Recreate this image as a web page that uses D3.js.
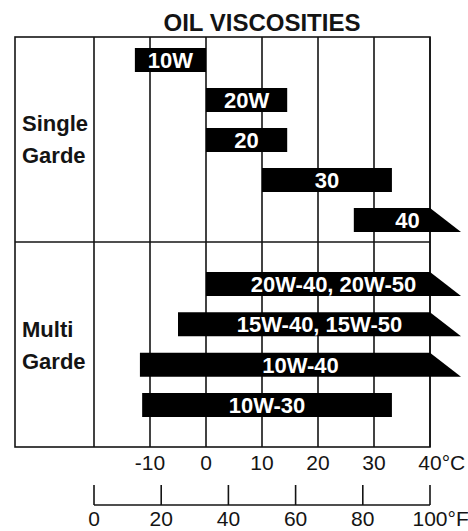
<!DOCTYPE html>
<html>
<head>
<meta charset="utf-8">
<script src="https://cdn.jsdelivr.net/npm/d3@7"></script>
<style>
  body { margin: 0; background: #fff; }
  text { font-family: "Liberation Sans", Arial, sans-serif; }
</style>
</head>
<body>
<div id="chart"></div>
<script>
// oil grades, temperature ranges in °C (open = extends beyond 40°C)
let singleGrades = ['10W', '20W', '20', '30', '40'];
let singleFrom = [-12.7, 0, 0, 10, 26.4];
let singleTo = [0, 14.5, 14.5, 33.2, 40];
let singleOpen = [false, false, false, false, true];

let multiGrades = ['20W-40, 20W-50', '15W-40, 15W-50', '10W-40', '10W-30'];
let multiFrom = [0, -5, -11.8, -11.4];
let multiTo = [40, 40, 40, 33.2];
let multiOpen = [true, true, true, false];

let gridC = [-20, -10, 0, 10, 20, 30, 40];
let tickC = [-10, 0, 10, 20, 30, 40];
let tickF = [0, 20, 40, 60, 80, 100];

function draw_chart() {
    let svgWidth = 468, svgHeight = 531;
    let box = { left: 15, right: 430, top: 37, bottom: 447, divider: 242 };
    let ink = '#141414';
    let barH = 24, tail = 31;

    let svg = d3.select('#chart').append('svg')
        .attr('width', svgWidth)
        .attr('height', svgHeight);

    let x = d3.scaleLinear().domain([-20, 40]).range([94, 430]);
    let xf = d3.scaleLinear().domain([0, 100]).range([94, 430]);

    let ySingle = d3.scalePoint().domain(singleGrades).range([60, 220]);
    let yMulti = d3.scalePoint().domain(multiGrades).range([284, 405]);

    // title
    svg.append('text')
        .attr('x', 262).attr('y', 31)
        .attr('text-anchor', 'middle')
        .attr('font-size', 24).attr('font-weight', 'bold')
        .attr('fill', ink)
        .text('OIL VISCOSITIES');

    // grid
    let grid = svg.append('g').attr('stroke', ink).attr('stroke-width', 1.6).attr('fill', 'none');
    grid.append('rect')
        .attr('x', box.left).attr('y', box.top)
        .attr('width', box.right - box.left).attr('height', box.bottom - box.top);
    grid.selectAll('line.v')
        .data(gridC)
        .enter().append('line')
        .attr('class', 'v')
        .attr('x1', d => x(d)).attr('x2', d => x(d))
        .attr('y1', box.top).attr('y2', box.bottom);
    grid.append('line')
        .attr('x1', box.left).attr('x2', box.right)
        .attr('y1', box.divider).attr('y2', box.divider);

    // bars
    let rows = [];
    singleGrades.forEach((g, i) => rows.push({ name: g, from: singleFrom[i], to: singleTo[i], open: singleOpen[i], y: ySingle(g) }));
    multiGrades.forEach((g, i) => rows.push({ name: g, from: multiFrom[i], to: multiTo[i], open: multiOpen[i], y: yMulti(g) }));

    let bars = svg.append('g').selectAll('g').data(rows).enter().append('g');
    bars.append('path')
        .attr('fill', '#000')
        .attr('d', d => {
            let x0 = x(d.from), x1 = x(d.to), t = d.y - barH / 2, b = d.y + barH / 2;
            let x2 = d.open ? x1 + tail : x1;
            return `M${x0},${t}L${x1},${t}L${x2},${b}L${x0},${b}Z`;
        });
    bars.append('text')
        .attr('x', d => (x(d.from) + x(d.to) + (d.open ? tail : 0)) / 2)
        .attr('y', d => d.y + 8)
        .attr('text-anchor', 'middle')
        .attr('font-size', 22).attr('font-weight', 'bold')
        .attr('fill', '#fff')
        .text(d => d.name);

    // group labels
    let groups = [
        { lines: ['Single', 'Garde'], y: 131 },
        { lines: ['Multi', 'Garde'], y: 337 }
    ];
    groups.forEach(g => {
        g.lines.forEach((l, i) => {
            svg.append('text')
                .attr('x', 22).attr('y', g.y + i * 32)
                .attr('font-size', 22).attr('font-weight', 'bold')
                .attr('fill', ink)
                .text(l);
        });
    });

    // last tick gets its unit appended, number stays centred on the tick
    let lastLabel = (g, pos, value, unit, y) => {
        let tmp = g.append('text').attr('font-size', 21).text(value);
        let w = tmp.node().getComputedTextLength();
        tmp.remove();
        g.append('text')
            .attr('x', pos - w / 2).attr('y', y)
            .attr('font-size', 21).attr('fill', ink)
            .text(value + unit);
    };

    // celsius labels
    let cAxis = svg.append('g');
    cAxis.selectAll('text')
        .data(tickC.slice(0, -1))
        .enter().append('text')
        .attr('x', d => x(d)).attr('y', 470)
        .attr('text-anchor', 'middle')
        .attr('font-size', 21).attr('fill', ink)
        .text(d => d);
    lastLabel(cAxis, x(tickC[tickC.length - 1]), tickC[tickC.length - 1], '°C', 470);

    // fahrenheit scale
    let fAxis = svg.append('g');
    fAxis.append('line')
        .attr('x1', xf(0)).attr('x2', xf(100))
        .attr('y1', 505).attr('y2', 505)
        .attr('stroke', ink).attr('stroke-width', 1.6);
    fAxis.selectAll('line.t')
        .data(tickF)
        .enter().append('line')
        .attr('class', 't')
        .attr('x1', d => xf(d)).attr('x2', d => xf(d))
        .attr('y1', 485).attr('y2', 505)
        .attr('stroke', ink).attr('stroke-width', 1.6);
    fAxis.selectAll('text')
        .data(tickF.slice(0, -1))
        .enter().append('text')
        .attr('x', d => xf(d)).attr('y', 526)
        .attr('text-anchor', 'middle')
        .attr('font-size', 21).attr('fill', ink)
        .text(d => d);
    lastLabel(fAxis, xf(tickF[tickF.length - 1]), tickF[tickF.length - 1], '°F', 526);
}

draw_chart();
</script>
</body>
</html>
